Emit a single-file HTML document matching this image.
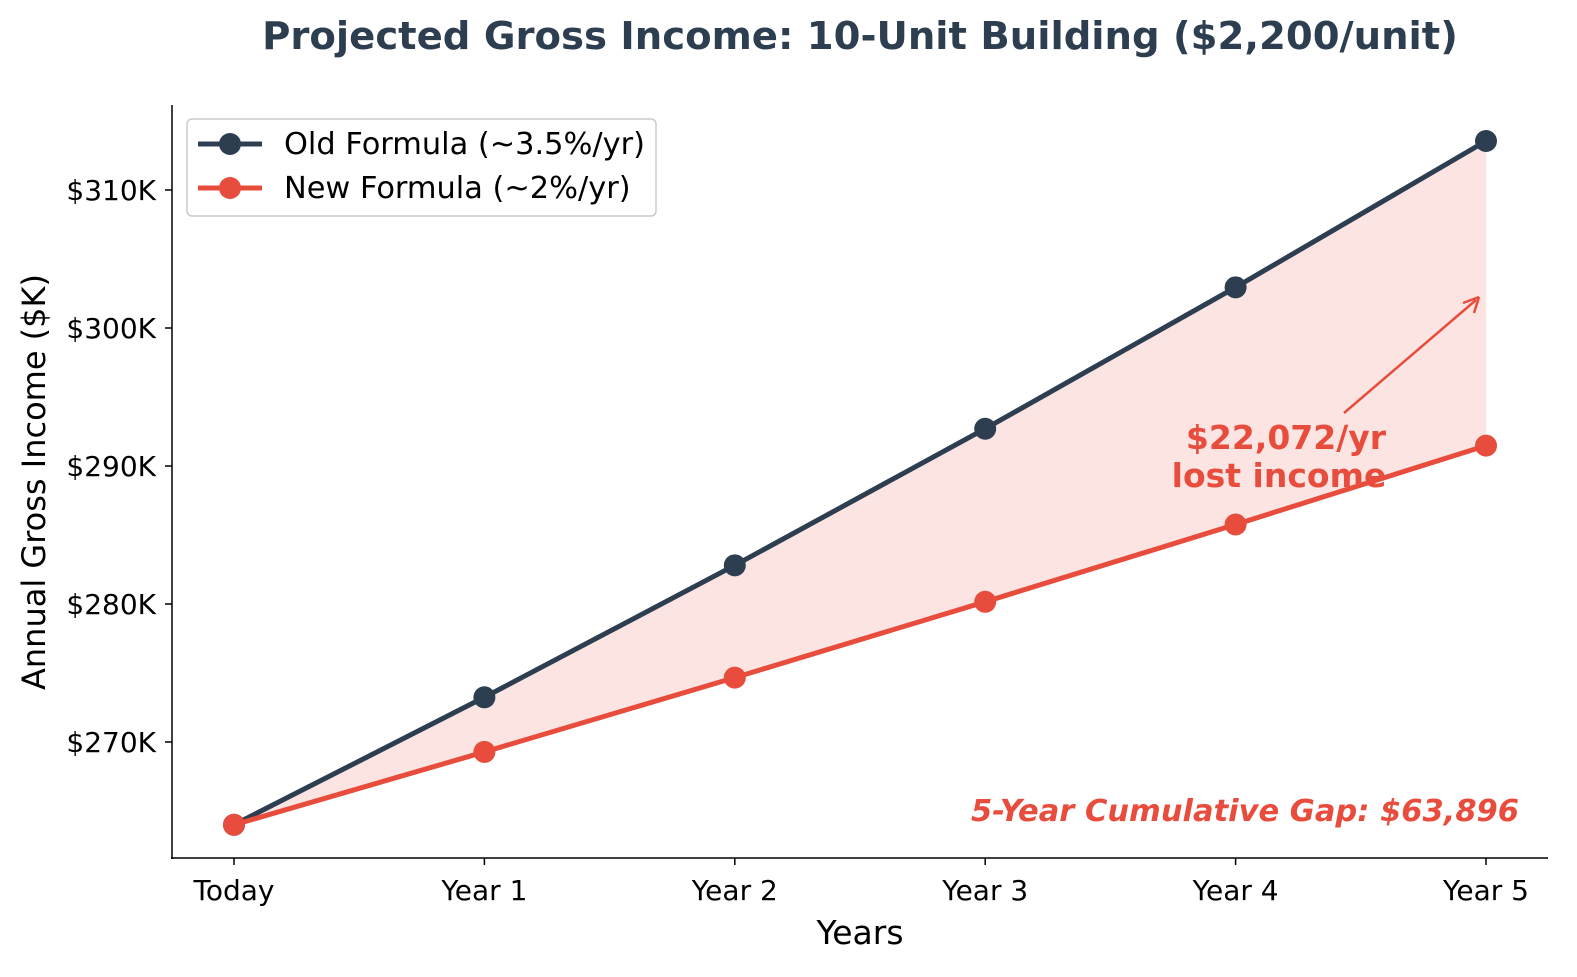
<!DOCTYPE html>
<html><head><meta charset="utf-8"><style>
html,body{margin:0;padding:0;overflow:hidden;background:#fff;font-family:"DejaVu Sans","Liberation Sans",sans-serif;}
svg{display:block;}
svg text{font-family:"DejaVu Sans","Liberation Sans",sans-serif;}
</style></head><body>
<svg id="chart" width="1577" height="977" xmlns="http://www.w3.org/2000/svg">
<text x="860" y="49" text-anchor="middle" font-size="38.6" font-weight="bold" fill="#2c3e50">Projected Gross Income: 10-Unit Building ($2,200/unit)</text>
<g id="plot"></g>
<line x1="172" y1="105" x2="172" y2="859" stroke="#000" stroke-width="1.5"/>
<line x1="171" y1="858" x2="1548" y2="858" stroke="#000" stroke-width="1.5"/>
<text x="860" y="944" text-anchor="middle" font-size="33">Years</text>
<text transform="translate(45,482) rotate(-90)" text-anchor="middle" font-size="32">Annual Gross Income ($K)</text>
<g>
<rect x="187" y="119" width="469" height="97" rx="5" fill="#fff" stroke="#ccc" stroke-width="1.5"/>
<line x1="198" y1="144" x2="262" y2="144" stroke="#2c3e50" stroke-width="5"/>
<circle cx="230" cy="144" r="11" fill="#2c3e50"/>
<text x="284" y="154" font-size="30.4">Old Formula (~3.5%/yr)</text>
<line x1="198" y1="188" x2="262" y2="188" stroke="#e74c3c" stroke-width="5"/>
<circle cx="230" cy="188" r="11" fill="#e74c3c"/>
<text x="284" y="198" font-size="30.4">New Formula (~2%/yr)</text>
</g>
<text x="1286" y="449" text-anchor="middle" font-size="33" font-weight="bold" fill="#e74c3c">$22,072/yr</text>
<text x="1279" y="487" text-anchor="middle" font-size="33" font-weight="bold" fill="#e74c3c">lost income</text>
<line x1="1344" y1="413" x2="1476" y2="300" stroke="#e74c3c" stroke-width="2.5"/>
<path d="M1479,297 L1463,303 M1479,297 L1474,313" stroke="#e74c3c" stroke-width="2.5" fill="none"/>
<text x="1519" y="821" text-anchor="end" font-size="30.5" font-weight="bold" font-style="italic" fill="#e74c3c">5-Year Cumulative Gap: $63,896</text>
</svg>
<script>
const categories=["Today","Year 1","Year 2","Year 3","Year 4","Year 5"];
const oldValues=[264000,273240,282803,292701,302946,313549];
const newValues=[264000,269280,274666,280159,285762,291477];
const yTicks=[270000,280000,290000,300000,310000];
const yTickLabels=["$270K","$280K","$290K","$300K","$310K"];
const NS="http://www.w3.org/2000/svg";
const g=document.getElementById('plot');
function x(i){return 234+i*250.4;}
function y(v){return 742-(v-270000)*0.0138;}
function mk(t,a){const e=document.createElementNS(NS,t);for(const k in a)e.setAttribute(k,a[k]);g.appendChild(e);return e;}
let pts=oldValues.map((v,i)=>x(i)+","+y(v)).join(" ")+" "+newValues.map((v,i)=>x(i)+","+y(v)).reverse().join(" ");
const area=mk('polygon',{points:pts,fill:"#e74c3c","fill-opacity":"0.15"});


yTicks.forEach((v,i)=>{
 const t=mk('line',{x1:165,x2:172,y1:y(v),y2:y(v),stroke:"#000","stroke-width":1.5});
 
 
 const l=mk('text',{x:156,y:y(v)+10,"text-anchor":"end","font-size":28});l.textContent=yTickLabels[i];
 
 
});
categories.forEach((c,i)=>{
 const t=mk('line',{x1:x(i),x2:x(i),y1:858,y2:865,stroke:"#000","stroke-width":1.5});
 
 
 const l=mk('text',{x:x(i),y:900,"text-anchor":"middle","font-size":28});l.textContent=c;
 
 
});
[[oldValues,"#2c3e50","old"],[newValues,"#e74c3c","new"]].forEach(([vals,col,nm])=>{
 const pl=mk('polyline',{points:vals.map((v,i)=>x(i)+","+y(v)).join(" "),fill:"none",stroke:col,"stroke-width":5,"stroke-linejoin":"round"});
 
 
 vals.forEach((v,i)=>{
  const c=mk('circle',{cx:x(i),cy:y(v),r:11,fill:col});
  
  
 });
});
</script>
</body></html>
